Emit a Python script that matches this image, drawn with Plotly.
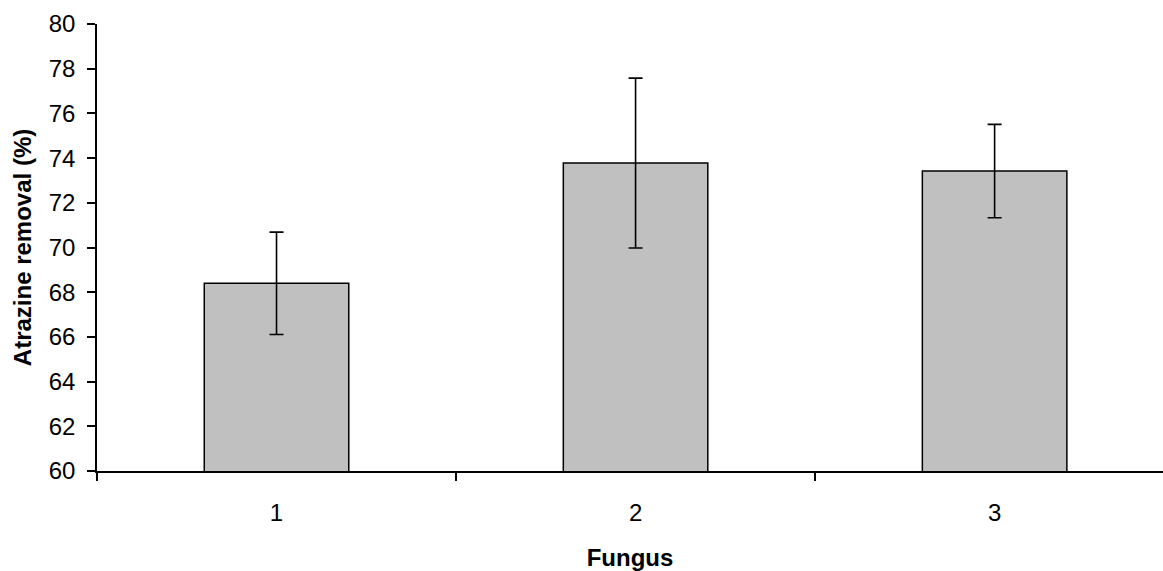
import plotly.graph_objects as go

fungus = [1, 2, 3]
removal = [68.4, 73.78, 73.42]
error = [2.29, 3.8, 2.09]
y_ticks = [60, 62, 64, 66, 68, 70, 72, 74, 76, 78, 80]
boundaries = [0.5, 1.5, 2.5, 3.5]

FONT = "Liberation Sans, Arial, sans-serif"

fig = go.Figure()
fig.add_trace(go.Bar(
    x=fungus, y=removal, width=0.4025,
    marker=dict(color="#C0C0C0", line=dict(color="black", width=1.5)),
    error_y=dict(type="data", array=error, visible=True,
                 color="black", thickness=1.6, width=7),
    showlegend=False,
))

fig.update_layout(
    width=1163, height=571,
    margin=dict(l=97, r=0, t=24, b=100),
    paper_bgcolor="white", plot_bgcolor="white",
    font=dict(family=FONT, size=24, color="black"),
    xaxis=dict(
        range=[0.5, 3.469], automargin=False,
        tickvals=fungus, ticktext=[str(f) for f in fungus],
        ticks="", ticklabelstandoff=19,
        showgrid=False, zeroline=False,
        showline=True, linecolor="black", linewidth=1.5,
        minor=dict(tickvals=boundaries, ticks="outside", ticklen=8,
                   tickcolor="black", tickwidth=1.5, showgrid=False),
        title=dict(text="<b>Fungus</b>", font=dict(size=24), standoff=32),
    ),
    yaxis=dict(
        range=[60, 80], tickvals=y_ticks, automargin=False,
        ticks="outside", ticklen=8, tickcolor="black", tickwidth=1.5,
        ticklabelstandoff=7,
        showgrid=False, zeroline=False,
        showline=True, linecolor="black", linewidth=1.5,
        title=dict(text="<b>Atrazine removal (%)</b>", font=dict(size=24), standoff=10),
    ),
)

fig.write_html("out.html", config={"displayModeBar": False},
               post_script="document.body.style.margin='0';")
